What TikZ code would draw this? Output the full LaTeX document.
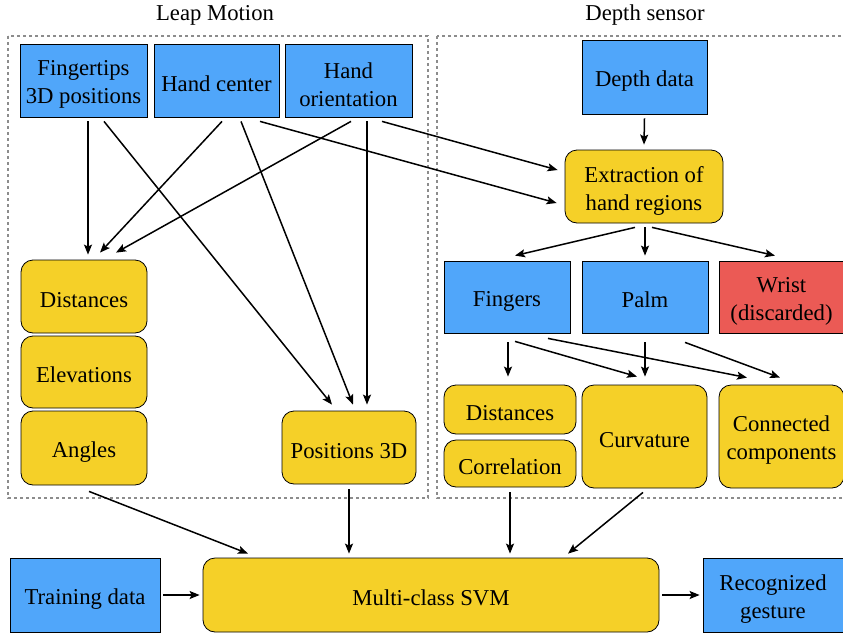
\documentclass[tikz,border=0pt]{standalone}
\usepackage{fontspec}
\setmainfont{Liberation Serif}
\usetikzlibrary{arrows.meta}
\definecolor{bfill}{RGB}{80,166,250}
\definecolor{yfill}{RGB}{245,208,40}
\definecolor{rfill}{RGB}{235,90,85}
\definecolor{dgray}{RGB}{140,140,140}
\newcommand\sst{\rule[-3pt]{0pt}{27pt}}
\newcommand\est{\rule[-3pt]{0pt}{3pt}}
\tikzset{
  every node/.style={font=\fontsize{22.7}{28}\selectfont, align=center, inner sep=0pt},
  boxtext/.style={execute at begin node=\sst, execute at end node=\est},
  bluebox/.style={boxtext, draw=black, line width=0.8pt, fill=bfill},
  redbox/.style={boxtext, draw=black, line width=0.8pt, fill=rfill},
  yelbox/.style={boxtext, draw=black, line width=0.8pt, fill=yfill, rounded corners=12pt},
  mtext/.style={yshift=-4pt},
  arr/.style={-{Stealth[length=10pt,width=8pt,inset=2pt]}, line width=1.5pt},
  group/.style={draw=dgray, line width=1.5pt, dash pattern=on 3pt off 3pt},
  lab/.style={font=\fontsize{22.7}{28}\selectfont}
}
\begin{document}
\begin{tikzpicture}[x=1pt,y=-1pt]
\useasboundingbox (0,0) rectangle (843,637);
% groups
\draw[group] (8,36) rectangle (428,498);
\draw[group] (437,36) rectangle (849,498);
\node[lab] (lm) at (215,15) {Leap Motion};
\node[lab] (ds) at (645,15) {Depth sensor};
% Leap Motion inputs
\node[bluebox, minimum width=127pt, minimum height=73pt] (ft) at (83.5,80.5) {};
\node[mtext] (ftt) at (ft.center) {Fingertips\\3D positions};
\node[bluebox, minimum width=125pt, minimum height=73pt] (hc) at (216.5,80.5) {Hand center};
\node[bluebox, minimum width=127pt, minimum height=73pt] (ho) at (348.5,80.5) {};
\node[mtext] (hot) at (ho.center) {Hand\\orientation};
% Leap features
\node[yelbox, minimum width=126pt, minimum height=73pt] (dl) at (84,296.5) {Distances};
\node[yelbox, minimum width=126pt, minimum height=72pt] (el) at (84,372) {Elevations};
\node[yelbox, minimum width=126pt, minimum height=74pt] (an) at (84,448) {Angles};
\node[yelbox, minimum width=134pt, minimum height=73pt] (p3) at (349,447.5) {Positions 3D};
% Depth
\node[bluebox, minimum width=125pt, minimum height=74pt] (dd) at (644.5,77) {Depth data};
\node[yelbox, minimum width=158pt, minimum height=73pt] (ex) at (644,186.5) {};
\node[mtext] (ext) at (ex.center) {Extraction of\\hand regions};
\node[bluebox, minimum width=126pt, minimum height=72pt] (fi) at (507,297) {Fingers};
\node[bluebox, minimum width=126pt, minimum height=72pt] (pa) at (645,297) {Palm};
\node[redbox, minimum width=125pt, minimum height=72pt] (wr) at (781.5,297) {};
\node[mtext] (wrt) at (wr.center) {Wrist\\(discarded)};
\node[yelbox, minimum width=132pt, minimum height=49pt] (dr) at (510,409.5) {Distances};
\node[yelbox, minimum width=132pt, minimum height=47pt] (co) at (510,463.5) {Correlation};
\node[yelbox, minimum width=125pt, minimum height=103pt] (cu) at (644.5,436.5) {Curvature};
\node[yelbox, minimum width=125pt, minimum height=103pt] (cc) at (781.5,436.5) {};
\node[mtext] (cct) at (cc.center) {Connected\\components};
% bottom
\node[bluebox, minimum width=150pt, minimum height=74pt] (td) at (85,595) {Training data};
\node[yelbox, minimum width=456pt, minimum height=74pt] (svm) at (431,595) {Multi-class SVM};
\node[bluebox, minimum width=140pt, minimum height=74pt] (rg) at (773,595) {};
\node[mtext] (rgt) at (rg.center) {Recognized\\gesture};
% arrows Leap
\draw[arr] ([xshift=4.5pt,yshift=-4pt]ft.south) -- ([xshift=4pt,yshift=5pt]dl.north);
\draw[arr] ([xshift=20.5pt,yshift=-4pt]ft.south) -- ([xshift=-17pt,yshift=6pt]p3.north);
\draw[arr] ([xshift=5.5pt,yshift=-4pt]hc.south) -- ([xshift=16pt,yshift=7pt]dl.north);
\draw[arr] ([xshift=24.5pt,yshift=-4pt]hc.south) -- ([xshift=4pt,yshift=6pt]p3.north);
\draw[arr] ([xshift=43.5pt,yshift=-4pt]hc.south) -- ([xshift=-8pt,yshift=-16.5pt]ex.west);
\draw[arr] ([xshift=2.5pt,yshift=-4pt]ho.south) -- ([xshift=32pt,yshift=7pt]dl.north);
\draw[arr] ([xshift=18.5pt,yshift=-4pt]ho.south) -- ([xshift=18pt,yshift=6pt]p3.north);
\draw[arr] ([xshift=33.5pt,yshift=-4pt]ho.south) -- ([xshift=-7pt,yshift=16.5pt]ex.west);
% arrows depth
\draw[arr] ([yshift=-4pt]dd.south) -- ([yshift=5pt]ex.north);
\draw[arr] ([xshift=-9pt,yshift=-4pt]ex.south) -- ([xshift=8pt,yshift=5pt]fi.north);
\draw[arr] ([xshift=1pt,yshift=-4pt]ex.south) -- ([yshift=5pt]pa.north);
\draw[arr] ([xshift=8pt,yshift=-4pt]ex.south) -- ([xshift=-6.5pt,yshift=5pt]wr.north);
\draw[arr] ([xshift=1pt,yshift=-9pt]fi.south) -- ([xshift=-2pt,yshift=8pt]dr.north);
\draw[arr] ([xshift=8pt,yshift=-8pt]fi.south) -- ([xshift=-7.5pt,yshift=8pt]cu.north);
\draw[arr] ([xshift=41pt,yshift=-5pt]fi.south) -- ([xshift=-34.5pt,yshift=7pt]cc.north);
\draw[arr] ([yshift=-9pt]pa.south) -- ([xshift=0.5pt,yshift=8pt]cu.north);
\draw[arr] ([xshift=40pt,yshift=-9pt]pa.south) -- ([xshift=-1.5pt,yshift=7pt]cc.north);
% to SVM
\draw[arr] ([xshift=5pt,yshift=-6pt]an.south) -- ([xshift=-183pt,yshift=4pt]svm.north);
\draw[arr] ([yshift=-5pt]p3.south) -- ([xshift=-82pt,yshift=4pt]svm.north);
\draw[arr] ([yshift=-5pt]co.south) -- ([xshift=79pt,yshift=4pt]svm.north);
\draw[arr] ([xshift=-1.5pt,yshift=-4pt]cu.south) -- ([xshift=137pt,yshift=4pt]svm.north);
\draw[arr] ([xshift=3pt]td.east) -- ([xshift=-3pt]svm.west);
\draw[arr] ([xshift=3pt]svm.east) -- ([xshift=-3pt]rg.west);
\end{tikzpicture}
\end{document}
